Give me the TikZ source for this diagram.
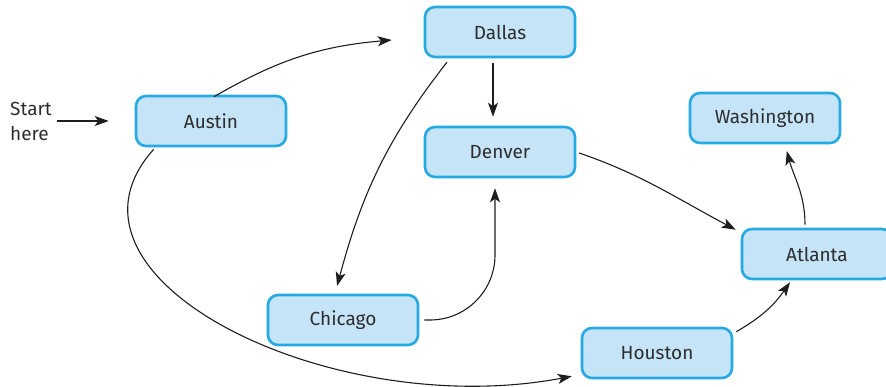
\documentclass[tikz,border=0pt]{standalone}
\usepackage{fontspec}
\setmainfont{Fira Sans}
\usepackage{xcolor}
\definecolor{colCity}{RGB}{198,228,248}
\definecolor{colCityLine}{RGB}{38,170,228}
\definecolor{colText}{RGB}{45,45,45}
\definecolor{colArr}{RGB}{30,30,30}
\usetikzlibrary{arrows.meta, positioning, calc}
\tikzset{
	citybox/.style={draw=colCityLine, fill=colCity, line width=2.6pt, rounded corners=10pt, minimum height=50pt, minimum width=150pt, text=colText, font=\fontsize{19}{23}\selectfont},
	flowarr/.style={-{Stealth[length=14pt, width=10pt, inset=3.5pt]}, line width=1.1pt, draw=colArr},
}

\begin{document}
\begin{tikzpicture}[x=1pt, y=1pt]
	\useasboundingbox (0,0) rectangle (886,386);

	% Start label
	\node[anchor=west, inner sep=0pt, align=left, text=colText, font=\fontsize{19}{25}\selectfont] (start) at (10,265) {Start\\here};

	% Cities
	\node[citybox] (austin) at (211,265) {Austin};
	\node[citybox] (dallas) at (500,354) {Dallas};
	\node[citybox] (denver) at (500,234) {Denver};
	\node[citybox] (washington) at (765,268) {Washington};
	\node[citybox] (atlanta) at (817,132) {Atlanta};
	\node[citybox] (chicago) at (343,66) {Chicago};
	\node[citybox] (houston) at (657,33) {Houston};

	% Start -> Austin
	\draw[flowarr, shorten <=5pt, shorten >=26pt] (start.east) -- (austin.west);

	% Austin -> Dallas
	\draw[flowarr] ($(austin.north)+(3,-2)$) to[out=30, in=185] ($(dallas.west)+(-32,-8)$);

	% Dallas -> Denver
	\draw[flowarr, shorten <=5pt, shorten >=9pt] ([xshift=-7pt]dallas.south) -- ([xshift=-7pt]denver.north);

	% Dallas -> Chicago
	\draw[flowarr, shorten <=5pt, shorten >=8pt] ([xshift=-50pt]dallas.south) to[out=232, in=75] ([xshift=-8pt]chicago.north);

	% Chicago -> Denver
	\draw[flowarr, rounded corners=65pt, shorten >=10pt] ([xshift=5pt]chicago.east) -| ([xshift=-5pt]denver.south);

	% Denver -> Atlanta
	\draw[flowarr, shorten <=3pt] (denver.east) to[out=-19, in=152] ($(atlanta.north west)+(-5,-2)$);

	% Atlanta -> Washington
	\draw[flowarr, shorten <=3pt, shorten >=7pt] ([xshift=-12pt]atlanta.north) to[out=90, in=-75] ([xshift=20pt]washington.south);

	% Houston -> Atlanta
	\draw[flowarr] ($(houston.north east)+(3,-5)$) to[out=30, in=235] ($(atlanta.south)+(-27,-2)$);

	% Austin -> Houston
	\draw[flowarr] ($(austin.south west)+(19,-2)$) .. controls +(-115,-128) and +(-243,-46) .. ($(houston.south west)+(-9,3)$);
\end{tikzpicture}
\end{document}
